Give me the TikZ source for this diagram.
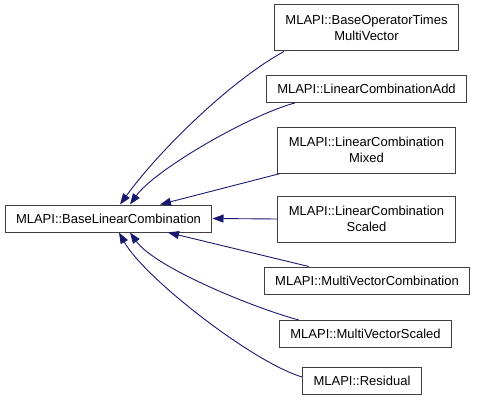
\documentclass[tikz,border=0pt]{standalone}
\usepackage{fontspec}
\setmainfont{Liberation Sans}
\usetikzlibrary{arrows.meta}
\definecolor{edgeblue}{RGB}{25,25,112}

\begin{document}
\begin{tikzpicture}[x=1pt,y=1pt,
        cls/.style={draw=black!75, line width=1pt, fill=white, align=center,
            inner xsep=11pt, minimum height=27pt, font=\fontsize{13}{16.5}\selectfont},
        cls2/.style={cls, minimum height=46pt},
        inh/.style={draw=edgeblue, line width=0.9pt, -{Triangle[length=11pt,width=8pt]}}]
            \useasboundingbox (0,0) rectangle (477,408);

            \node[cls]  (base)   at (108.5,189.5) {MLAPI::BaseLinearCombination};
            \node[cls2] (bot)    at (366.5,380)   {MLAPI::BaseOperatorTimes\\MultiVector};
            \node[cls]  (add)    at (366.5,319)   {MLAPI::LinearCombinationAdd};
            \node[cls2] (mixed)  at (366.5,258)   {MLAPI::LinearCombination\\Mixed};
            \node[cls2] (scaled) at (366.5,189)   {MLAPI::LinearCombination\\Scaled};
            \node[cls]  (mvc)    at (367,127.5)   {MLAPI::MultiVectorCombination};
            \node[cls]  (mvs)    at (365.5,74)    {MLAPI::MultiVectorScaled};
            \node[cls]  (res)    at (362,27)      {MLAPI::Residual};

            \draw [inh] ([xshift=10pt]bot.south west) .. controls +(-53,-29) and +(40,55) .. ([xshift=11.5pt]base.north);
            \draw [inh] ([xshift=29pt]add.south west) .. controls +(-45,-12) and +(25,35) .. ([xshift=21.5pt]base.north);
            \draw [inh] ([xshift=3pt]mixed.south west) -- ([xshift=51.5pt]base.north);
            \draw [inh] (scaled.west) -- (base.east);
            \draw [inh] ([xshift=45pt]mvc.north west) -- ([xshift=59.5pt]base.south);
            \draw [inh] ([xshift=20pt]mvs.north west) .. controls +(-45,12) and +(25,-35) .. ([xshift=21.5pt]base.south);
            \draw [inh] ([yshift=4pt]res.west) .. controls +(-50,15) and +(25,-45) .. ([xshift=10.5pt]base.south);
        \end{tikzpicture}
\end{document}
